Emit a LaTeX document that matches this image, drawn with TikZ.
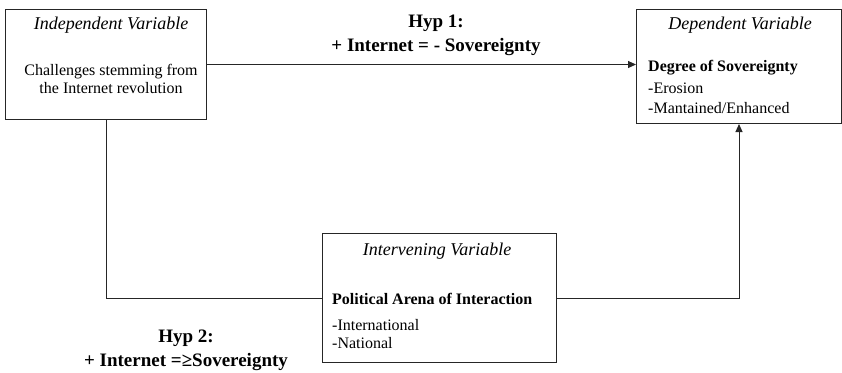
\documentclass[tikz,border=0pt]{standalone}
\usepackage{fontspec}
\setmainfont{Liberation Serif}
\usepackage{tikz}
\usetikzlibrary{arrows.meta,positioning}
\tikzset{
  varbox/.style={draw=black!85,line width=1pt,inner sep=0pt,anchor=north west},
  vartitle/.style={font=\fontsize{18}{20}\selectfont\itshape,inner sep=0pt},
  vartext/.style={font=\fontsize{16}{18}\selectfont,inner sep=0pt,anchor=west},
  hyplabel/.style={font=\fontsize{19}{24}\selectfont\bfseries,align=center,inner sep=0pt},
  flow/.style={-{Triangle[length=8pt,width=7pt]},line width=1pt,draw=black!85},
  link/.style={line width=1pt,draw=black!85},
}

\begin{document}
\begin{tikzpicture}[x=1pt,y=-1pt]
    \useasboundingbox (0,0) rectangle (842,372);
    % boxes
    \node[varbox,minimum width=201pt,minimum height=110pt] (indep) at (5,9) {};
    \node[varbox,minimum width=205pt,minimum height=114pt] (dep) at (636,9) {};
    \node[varbox,minimum width=234pt,minimum height=129pt] (interv) at (322,233) {};
    % independent variable
    \node[vartitle] (indeptitle) at (111,25) {Independent Variable};
    \node[vartext,anchor=center,align=center] (indeptext) at (111,79) {Challenges stemming from\\the Internet revolution};
    % dependent variable
    \node[vartitle] (deptitle) at (740,25) {Dependent Variable};
    \node[vartext] (depbold) at (648,68) {\textbf{Degree of Sovereignty}};
    \node[vartext] (deperosion) at (648,88) {-Erosion};
    \node[vartext] (depkept) at (648,108) {-Mantained/Enhanced};
    % intervening variable
    \node[vartitle] (intervtitle) at (437,251) {Intervening Variable};
    \node[vartext] (intervbold) at (332,299) {\textbf{Political Arena of Interaction}};
    \node[vartext] (intervintl) at (332,325) {-International};
    \node[vartext] (intervnatl) at (332,343) {-National};
    % hypotheses
    \node[hyplabel] (hypone) at (436,35) {Hyp 1:\\+ Internet = - Sovereignty};
    \node[hyplabel] (hyptwo) at (186,350) {Hyp 2:\\+ Internet =≥Sovereignty};
    % connectors
    \draw[flow] (indep.east) -- (indep.east -| dep.west);
    \draw[link] (indep.south) |- (interv.west);
    \draw[flow] (interv.east) -| (dep.south);
\end{tikzpicture}
\end{document}
